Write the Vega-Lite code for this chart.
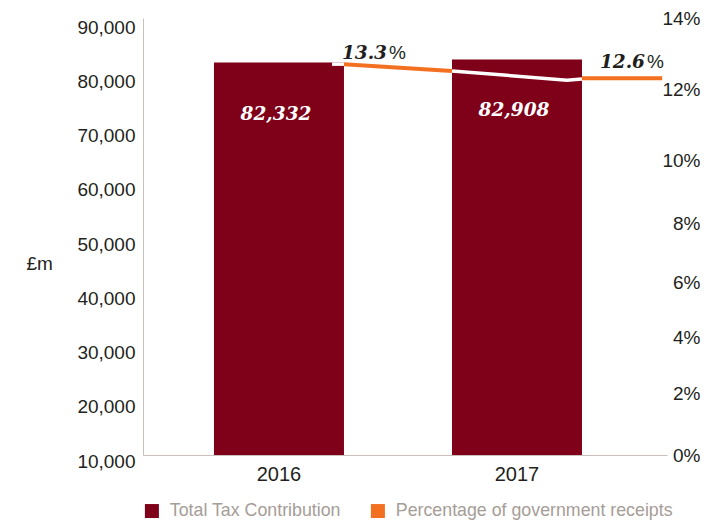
{
  "$schema": "https://vega.github.io/schema/vega-lite/v6.json",
  "width": 524,
  "height": 437,
  "autosize": {"type": "none"},
  "padding": {"left": 143, "top": 18, "right": 55, "bottom": 67},
  "background": "white",
  "config": {
    "view": {"stroke": null},
    "font": "Liberation Sans",
    "axis": {"grid": false, "ticks": false, "domainColor": "#c9c0bb", "domainWidth": 1, "labelColor": "#231f20", "labelFont": "Liberation Sans", "titleFont": "Liberation Sans"}
  },
  "datasets": {
    "tax": [
      {"year": "2016", "value": 82332, "series": "Total Tax Contribution"},
      {"year": "2017", "value": 82908, "series": "Total Tax Contribution"}
    ],
    "orange": [
      {"seg": "b", "t": 2016.273, "p": 12.70},
      {"seg": "b", "t": 2016.727, "p": 12.51},
      {"seg": "d", "t": 2017.273, "p": 12.30},
      {"seg": "d", "t": 2017.61, "p": 12.30}
    ],
    "white": [
      {"seg": "a", "t": 2016.223, "p": 12.70},
      {"seg": "a", "t": 2016.273, "p": 12.70},
      {"seg": "c", "t": 2016.727, "p": 12.51},
      {"seg": "c", "t": 2017.21, "p": 12.25},
      {"seg": "c", "t": 2017.273, "p": 12.28}
    ],
    "pct": [
      {"t": 2016, "p": 13.3},
      {"t": 2017, "p": 12.6}
    ]
  },
  "layer": [
    {
      "data": {"name": "tax"},
      "encoding": {
        "x": {"field": "year", "type": "nominal", "scale": {"paddingInner": 0.4538, "paddingOuter": 0.3277, "align": 0.455},
          "axis": {"title": null, "labelAngle": 0, "labelFontSize": 20, "labelPadding": 9}},
        "y": {"field": "value", "type": "quantitative", "scale": {"domain": [10000, 90553], "nice": false, "zero": false},
          "axis": {"orient": "left", "values": [10000, 20000, 30000, 40000, 50000, 60000, 70000, 80000, 90000], "format": ",.0f", "labelFontSize": 19, "labelPadding": 8, "labelOffset": 6,
            "title": "£m", "titleAngle": 0, "titleAlign": "left", "titleBaseline": "middle", "titleX": -117, "titleY": 245, "titleFontSize": 19, "titleFontWeight": "normal", "titleColor": "#231f20"}}
      },
      "layer": [
        {
          "mark": {"type": "bar"},
          "encoding": {
            "y2": {"datum": 10000},
            "color": {"field": "series", "type": "nominal",
              "scale": {"domain": ["Total Tax Contribution", "Percentage of government receipts"], "range": ["#7e0019", "#f37021"]},
              "legend": {"orient": "none", "legendX": 0, "legendY": 484, "direction": "horizontal", "symbolType": "square", "symbolSize": 196, "symbolStrokeWidth": 0,
                "labelFontSize": 17.8, "labelColor": "#a69d97", "labelFont": "Liberation Sans", "labelOffset": 9, "labelLimit": 0, "columnPadding": 28, "title": null, "padding": 0}}
          }
        },
        {
          "mark": {"type": "text", "font": "DejaVu Serif", "fontStyle": "italic", "fontWeight": "bold", "fontSize": 18.5, "color": "white", "baseline": "middle", "dy": 51, "dx": -3},
          "encoding": {"text": {"field": "value", "format": ",.0f"}}
        }
      ]
    },
    {
      "encoding": {
        "x": {"field": "t", "type": "quantitative", "scale": {"domain": [2015.4286, 2017.6303], "nice": false, "zero": false}, "axis": null},
        "y": {"field": "p", "type": "quantitative", "scale": {"domain": [0, 2, 4, 6, 8, 10, 12, 14], "range": [437, 375, 319, 264, 205, 142, 71, 0]},
          "axis": {"orient": "right", "values": [0, 2, 4, 6, 8, 10, 12, 14], "labelExpr": "datum.value + '%'", "domain": false, "labelAlign": "right", "labelPadding": 33, "labelFontSize": 19, "title": null}}
      },
      "layer": [
        {"data": {"name": "orange"}, "mark": {"type": "line", "color": "#f37021", "strokeWidth": 4}, "encoding": {"detail": {"field": "seg"}}},
        {"data": {"name": "white"}, "mark": {"type": "line", "color": "white", "strokeWidth": 3.5}, "encoding": {"detail": {"field": "seg"}}},
        {"data": {"name": "pct"}, "transform": [{"filter": "datum.t == 2016"}],
          "mark": {"type": "text", "font": "DejaVu Serif", "fontStyle": "italic", "fontWeight": "bold", "fontSize": 18.5, "color": "#231f20", "align": "right", "baseline": "middle", "dx": 108, "dy": 10},
          "encoding": {"text": {"field": "p", "format": ".1f"}}},
        {"data": {"name": "pct"}, "transform": [{"filter": "datum.t == 2016"}],
          "mark": {"type": "text", "font": "Liberation Sans", "fontSize": 19, "color": "#231f20", "align": "left", "baseline": "middle", "dx": 110, "dy": 10, "text": "%"},
          "encoding": {}},
        {"data": {"name": "pct"}, "transform": [{"filter": "datum.t == 2017"}],
          "mark": {"type": "text", "font": "DejaVu Serif", "fontStyle": "italic", "fontWeight": "bold", "fontSize": 18.5, "color": "#231f20", "align": "right", "baseline": "middle", "dx": 128, "dy": -6},
          "encoding": {"text": {"field": "p", "format": ".1f"}}},
        {"data": {"name": "pct"}, "transform": [{"filter": "datum.t == 2017"}],
          "mark": {"type": "text", "font": "Liberation Sans", "fontSize": 19, "color": "#231f20", "align": "left", "baseline": "middle", "dx": 130, "dy": -6, "text": "%"},
          "encoding": {}}
      ]
    }
  ],
  "resolve": {"scale": {"x": "independent", "y": "independent"}}
}
